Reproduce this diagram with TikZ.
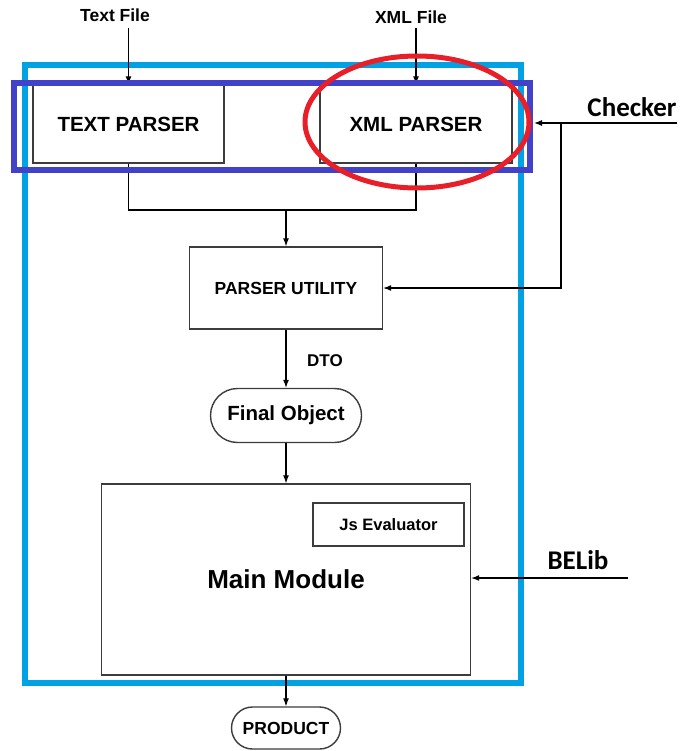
\documentclass[tikz,border=0pt]{standalone}
\usepackage{fontspec}
\setmainfont{Liberation Sans}
\newfontfamily\calib{Carlito}
\usetikzlibrary{arrows.meta,shapes.misc}
\definecolor{lblue}{RGB}{0,162,228}
\definecolor{pblue}{RGB}{66,66,200}
\definecolor{ered}{RGB}{232,30,40}
\definecolor{bgray}{RGB}{60,60,60}
\begin{document}
\begin{tikzpicture}[x=1pt,y=-1pt,
  box/.style={draw=bgray,line width=1.4pt,inner sep=0pt,font=\bfseries},
  pill/.style={box,rounded rectangle},
  lbl/.style={inner sep=0pt,font=\bfseries},
  conn/.style={draw=black,line width=1.1pt},
  arr/.style={conn,-{Latex[length=8pt,width=6pt]}}]
\useasboundingbox (0,0) rectangle (683,751);
% outer frame
\draw[lblue,line width=6.5pt] (25,65) rectangle (521,683);
% boxes
\node[box,minimum width=191pt,minimum height=78pt,font=\bfseries\fontsize{20.5}{24}\selectfont] (tp) at (128.5,124) {TEXT PARSER};
\node[box,minimum width=192pt,minimum height=78pt,font=\bfseries\fontsize{20.5}{24}\selectfont] (xp) at (416,124) {XML PARSER};
\node[box,minimum width=193pt,minimum height=82pt,font=\bfseries\fontsize{17.5}{21}\selectfont] (pu) at (286,288) {PARSER UTILITY};
\node[pill,minimum width=151pt,minimum height=54pt,font=\bfseries\fontsize{20.5}{24}\selectfont] (fo) at (286,415.5) {Final Object};
\node[box,minimum width=369pt,minimum height=191pt,font=\bfseries\fontsize{26}{30}\selectfont] (mm) at (286,579.5) {Main Module};
\node[box,minimum width=151pt,minimum height=43pt,font=\bfseries\fontsize{16.5}{20}\selectfont] (js) at (388.5,524.5) {Js Evaluator};
\node[pill,minimum width=109pt,minimum height=42pt,font=\bfseries\fontsize{17.5}{21}\selectfont] (pr) at (286,728) {PRODUCT};
% labels
\node[lbl,font=\bfseries\fontsize{17.5}{21}\selectfont] (tf) at (115,15) {Text File};
\node[lbl,font=\bfseries\fontsize{17.5}{21}\selectfont] (xf) at (411,17) {XML File};
\node[lbl,font=\bfseries\fontsize{17}{20}\selectfont] (dto) at (325,361) {DTO};
\node[lbl,font=\calib\bfseries\fontsize{27}{30}\selectfont] (ck) at (632,107) {Checker};
\node[lbl,font=\calib\bfseries\fontsize{27}{30}\selectfont] (bl) at (578,560) {BELib};
% connectors
\coordinate (j) at (286,210);
\coordinate (ckin) at (677,123);
\coordinate (ckb) at (561,123);
\coordinate (ckend) at (534,123);
\coordinate (blin) at (628,578);
\draw[arr] (tp.north |- 0,28) -- (tp.north);
\draw[arr] (xp.north |- 0,28) -- (xp.north);
\draw[conn] (tp.south) |- (j) -| (xp.south);
\draw[arr] (j) -- (pu.north);
\draw[arr] (ckin) -- (ckend);
\draw[arr] (ckb) |- (pu.east);
\draw[arr] (pu.south) -- (fo.north);
\draw[arr] (fo.south) -- (mm.north);
\draw[arr] (mm.south) -- (pr.north);
\draw[arr] (blin) -- (mm.east |- blin);
% highlight frames
\draw[pblue,line width=6pt] (14,83) rectangle (530,170);
\draw[ered,line width=5pt] (417,122) ellipse [x radius=112pt, y radius=66pt];
\end{tikzpicture}
\end{document}
